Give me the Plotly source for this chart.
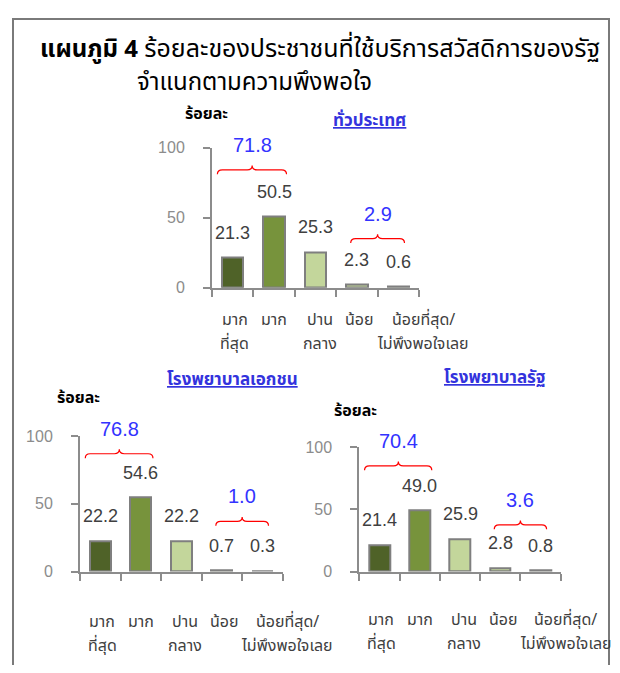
import plotly.graph_objects as go

# page has an 8px body margin; size the figure so page == window
OFF = 8
W, H = 604, 657

categories = ["มาก<br>ที่สุด", "มาก", "ปาน<br>กลาง", "น้อย", "น้อยที่สุด/<br>ไม่พึงพอใจเลย"]
values_all = [21.3, 50.5, 25.3, 2.3, 0.6]
values_private = [22.2, 54.6, 22.2, 0.7, 0.3]
values_public = [21.4, 49.0, 25.9, 2.8, 0.8]
sums_all = [71.8, 2.9]
sums_private = [76.8, 1.0]
sums_public = [70.4, 3.6]
panel_titles = ["ทั่วประเทศ", "โรงพยาบาลเอกชน", "โรงพยาบาลรัฐ"]
y_title = "ร้อยละ"
y_ticks = [0, 50, 100]
title_bold = "แผนภูมิ 4"
title_rest = "ร้อยละของประชาชนที่ใช้บริการสวัสดิการของรัฐ"
title_line2 = "จำแนกตามความพึงพอใจ"

bar_colors = ["#4f6228", "#77933c", "#c3d69b", "#c3d69b", "#d7e4bd"]
FONT = "Tahoma, 'Noto Sans Thai', 'Liberation Sans', sans-serif"
NUMFONT = "'Liberation Sans', Arial, sans-serif"


def X(px):
    return (px - OFF) / W


def Y(py):
    return 1 - (py - OFF) / H


panels = [
    dict(x0=212, x1=419, y0=287, y100=143, vals=values_all, sums=sums_all,
         title=panel_titles[0], ttl_xy=(370, 116), pct_xy=(206, 109),
         brace_lv=[84, 35], lab_y=320, sfx=""),
    dict(x0=80, x1=282.7, y0=578.3, y100=439.3, vals=values_private, sums=sums_private,
         title=panel_titles[1], ttl_xy=(232, 382), pct_xy=(78, 400),
         brace_lv=[87, 37], lab_y=630, sfx="2"),
    dict(x0=359.3, x1=560.7, y0=578.3, y100=450.7, vals=values_public, sums=sums_public,
         title=panel_titles[2], ttl_xy=(495, 380), pct_xy=(356, 413),
         brace_lv=[85, 37.5], lab_y=628, sfx="3"),
]

label_xshift = [2, 0, 4, 3, 25]
line_gap = 25
brace_groups = [(-0.37, 1.3, 0.47), (2.85, 4.15, 3.5)]

fig = go.Figure()
annotations = []
shapes = []


def txt(x, y, text, size, color, family=FONT, xanchor="center", **kw):
    d = dict(x=x, y=y, xref="paper", yref="paper", text=text, showarrow=False,
             xanchor=xanchor, yanchor="middle",
             font=dict(family=family, size=size, color=color))
    d.update(kw)
    return d


for p in panels:
    sfx = p["sfx"]
    xa = "x" + sfx
    ya = "y" + sfx
    fig.add_trace(go.Bar(
        x=list(range(len(categories))), y=p["vals"], xaxis=xa, yaxis=ya,
        width=0.52, marker=dict(color=bar_colors, line=dict(color="#7f7f7f", width=2)),
        showlegend=False, hoverinfo="skip"))
    axis_line = dict(showline=True, linecolor="#8c8c8c", linewidth=2, showgrid=False,
                     zeroline=False, ticks="outside", tickcolor="#8c8c8c", tickwidth=2, ticklen=7)
    fig.update_layout(**{
        ("xaxis" + sfx): dict(domain=[X(p["x0"]), X(p["x1"])], range=[-0.5, 4.5],
                              anchor=ya, tickmode="array",
                              tickvals=[i - 0.5 for i in range(len(categories) + 1)],
                              showticklabels=False, fixedrange=True, **axis_line),
        ("yaxis" + sfx): dict(domain=[Y(p["y0"]), Y(p["y100"])], range=[0, 100],
                              anchor=xa, tickmode="array", tickvals=y_ticks,
                              ticklabelstandoff=15,
                              tickfont=dict(family=NUMFONT, size=16, color="#8c8c8c"),
                              fixedrange=True, **axis_line),
    })
    ppu = (p["y0"] - p["y100"]) / 100.0
    for i, v in enumerate(p["vals"]):
        annotations.append(dict(x=i, y=v, xref=xa, yref=ya, text=f"{v:.1f}", showarrow=False,
                                xanchor="center", yanchor="middle", yshift=25,
                                font=dict(family=NUMFONT, size=18, color="#404040")))
    for i, c in enumerate(categories):
        for k, line in enumerate(c.split("<br>")):
            annotations.append(dict(x=i, y=Y(p["lab_y"] + k * line_gap), xref=xa, yref="paper",
                                    text=line, showarrow=False, xanchor="center", yanchor="middle",
                                    xshift=label_xshift[i],
                                    font=dict(family=FONT, size=16, color="#404040")))
    for (bx0, bx1, bxm), lv, s in zip(brace_groups, p["brace_lv"], p["sums"]):
        d = 4.5 / ppu
        e = 0.12
        path = (f"M {bx0},{lv - d} Q {bx0},{lv} {bx0 + e},{lv} L {bxm - e},{lv} "
                f"Q {bxm},{lv} {bxm},{lv + d} Q {bxm},{lv} {bxm + e},{lv} "
                f"L {bx1 - e},{lv} Q {bx1},{lv} {bx1},{lv - d}")
        shapes.append(dict(type="path", path=path, xref=xa, yref=ya,
                           line=dict(color="#ff0000", width=1.2)))
        annotations.append(dict(x=bxm, y=lv, xref=xa, yref=ya, text=f"{s:.1f}",
                                showarrow=False, xanchor="center", yanchor="middle", yshift=25,
                                font=dict(family=NUMFONT, size=20, color="#3333ff")))
    annotations.append(txt(X(p["ttl_xy"][0]), Y(p["ttl_xy"][1]),
                           f"<b><u>{p['title']}</u></b>", 17, "#3333dd"))
    annotations.append(txt(X(p["pct_xy"][0]), Y(p["pct_xy"][1]),
                           f"<b>{y_title}</b>", 16, "#000000"))

annotations.append(txt(X(38), Y(42),
                       f"<b>{title_bold}</b> <span style='font-size:25px'>{title_rest}</span>",
                       24, "#000000", xanchor="left"))
annotations.append(txt(X(135), Y(77), title_line2, 24, "#000000", xanchor="left"))

shapes.append(dict(type="rect", xref="paper", yref="paper", x0=X(13), x1=X(609), y0=Y(700), y1=Y(11),
                   line=dict(color="#7a7a7a", width=2), fillcolor="rgba(0,0,0,0)"))

fig.update_layout(width=W, height=H, margin=dict(l=0, r=0, t=0, b=0),
                  paper_bgcolor="white", plot_bgcolor="white",
                  annotations=annotations, shapes=shapes, bargap=0)
fig.write_html("out.html")
